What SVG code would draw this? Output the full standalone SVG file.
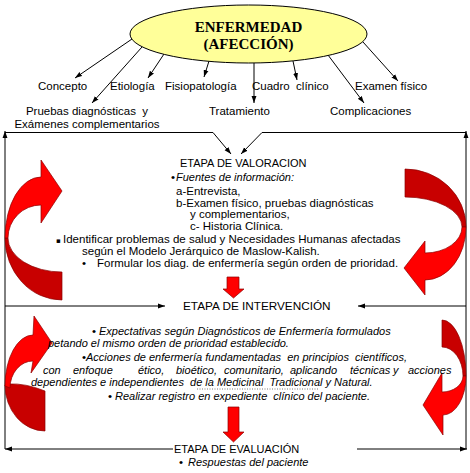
<svg xmlns="http://www.w3.org/2000/svg" width="470" height="473" viewBox="0 0 470 473">
<style>
text{font-family:"Liberation Sans",Arial,sans-serif;font-size:11.5px;fill:#000;white-space:pre}
.it{font-style:italic;font-size:11px}
.s11{font-size:11px}
.ttl{font-family:"Liberation Serif","Times New Roman",serif;font-weight:bold;font-size:15px}
.ln{stroke:#000;stroke-width:1;fill:none}
.red{fill:#FF0000;stroke:#8B0000;stroke-width:0.7}
.dark{fill:#C80000;stroke:#8B0000;stroke-width:0.7}
</style>
<defs>
<marker id="ah" viewBox="0 0 10 10" refX="10" refY="5" markerWidth="7" markerHeight="7" orient="auto" markerUnits="userSpaceOnUse">
<path d="M0,1.5 L10,5 L0,8.5 z" fill="#000"/>
</marker>
</defs>
<rect width="470" height="473" fill="#fff"/>

<g id="connectors">
<line class="ln" x1="132" y1="39" x2="75" y2="78" marker-end="url(#ah)"/>
<line class="ln" x1="142" y1="47" x2="92" y2="103" marker-end="url(#ah)"/>
<line class="ln" x1="164" y1="54" x2="148" y2="78" marker-end="url(#ah)"/>
<line class="ln" x1="209" y1="61" x2="204" y2="77" marker-end="url(#ah)"/>
<line class="ln" x1="254" y1="63" x2="254" y2="103" marker-end="url(#ah)"/>
<line class="ln" x1="293" y1="61" x2="297" y2="80" marker-end="url(#ah)"/>
<line class="ln" x1="328" y1="55" x2="364" y2="103" marker-end="url(#ah)"/>
<line class="ln" x1="363" y1="42" x2="398" y2="81" marker-end="url(#ah)"/>
<path class="ln" d="M5,449 V131" marker-end="url(#ah)"/>
<path class="ln" d="M466,449 V131" marker-end="url(#ah)"/>
<path class="ln" d="M5,132.5 H213 L231,154" marker-end="url(#ah)"/>
<path class="ln" d="M466,132.5 H262 L241,154" marker-end="url(#ah)"/>
<path class="ln" d="M5,306 H165" marker-end="url(#ah)"/>
<path class="ln" d="M466,306 H358" marker-end="url(#ah)"/>
<path class="ln" d="M173,449 H5" marker-end="url(#ah)"/>
<path class="ln" d="M357,449 H467" marker-end="url(#ah)"/>
</g>

<g id="enfermedad">
<ellipse cx="248.5" cy="34" rx="118.5" ry="29" fill="#FFFF99" stroke="#000" stroke-width="1"/>
<text class="ttl" x="248.5" y="32" text-anchor="middle">ENFERMEDAD</text>
<text class="ttl" x="248.5" y="49" text-anchor="middle">(AFECCIÓN)</text>
</g>

<g id="concepto"><text x="38" y="90">Concepto</text></g>
<g id="etiologia"><text x="110" y="90">Etiología</text></g>
<g id="fisiopatologia"><text x="165" y="90">Fisiopatología</text></g>
<g id="cuadro"><text x="252" y="90" xml:space="preserve">Cuadro  clínico</text></g>
<g id="examen"><text x="355" y="90">Examen físico</text></g>
<g id="pruebas">
<text x="87" y="115" text-anchor="middle" xml:space="preserve">Pruebas diagnósticas  y</text>
<text x="87" y="128" text-anchor="middle">Exámenes complementarios</text>
</g>
<g id="tratamiento"><text x="209" y="115">Tratamiento</text></g>
<g id="complicaciones"><text x="330" y="115">Complicaciones</text></g>

<g id="curved-arrows">
<path class="dark" d="M62,272 A54,34 0 0 1 8,238 L5,238 A57,62 0 0 0 62,300 Z"/>
<path class="red" d="M5,238 A36,61 0 0 1 41,177 L41,160 L62,191 L41,223 L41,205 A33,33 0 0 0 8,238 Z"/>
<path class="dark" d="M405,169 A61,58 0 0 1 466,227 L462,227 A57,30 0 0 0 405,197 Z"/>
<path class="red" d="M466,227 A41,53 0 0 1 425,280 L425,295 L404,268 L425,241 L425,253 A37,26 0 0 0 462,227 Z"/>
<path class="dark" d="M45,391 Q25,383 9,384 L5,385 A40,46 0 0 0 45,431 Z"/>
<path class="red" d="M5,386 A28,51 0 0 1 33,335 L34,316 L52,343 L31,373 L33,361 A23,27 0 0 0 10,388 Z"/>
<path class="dark" d="M442,320 A24,56 0 0 1 466,376 L463,376 A21,29 0 0 0 442,347 Z"/>
<path class="red" d="M466,376 A23,39 0 0 1 443,415 L443,435 L423,405 L442,373 L442,392 A21,16 0 0 0 463,376 Z"/>
</g>

<g id="valoracion">
<text class="s11" x="180" y="167">ETAPA DE VALORACION</text>
<text x="171" y="181">•</text>
<text class="it" x="176" y="181">Fuentes de información:</text>
<text x="176" y="195">a-Entrevista,</text>
<text x="176" y="207">b-Examen físico, pruebas diagnósticas</text>
<text x="190" y="218">y complementarios,</text>
<text x="190" y="230">c- Historia Clínica.</text>
<text x="56" y="243" style="font-family:'DejaVu Sans',sans-serif;font-size:7px">▪</text>
<text x="63" y="243">Identificar problemas de salud y Necesidades Humanas afectadas</text>
<text x="82" y="255">según el Modelo Jerárquico de Maslow-Kalish.</text>
<text x="82" y="267">•</text>
<text x="97" y="267">Formular los diag. de enfermería según orden de prioridad.</text>
<path class="red" d="M227,277 H239 V289 H244 L233.5,298 L223,289 H227 Z"/>
</g>

<g id="intervencion">
<text x="183" y="310" style="font-size:11.75px">ETAPA DE INTERVENCIÓN</text>
<text x="92" y="335">•</text>
<text class="it" x="99" y="335">Expectativas según Diagnósticos de Enfermería formulados</text>
<text class="it" x="48" y="347">petando el mismo orden de prioridad establecido.</text>
<text x="82" y="361">•</text>
<text class="it" x="86" y="361" xml:space="preserve">Acciones de enfermería fundamentadas  en principios  científicos,</text>
<text class="it" y="374"><tspan x="43">con</tspan><tspan x="73">enfoque</tspan><tspan x="138">ético,</tspan><tspan x="176">bioético,</tspan><tspan x="224">comunitario,</tspan><tspan x="290">aplicando</tspan><tspan x="350">técnicas</tspan><tspan x="393">y</tspan><tspan x="408">acciones</tspan></text>
<text class="it" x="31" y="386" xml:space="preserve">dependientes e independientes  de la Medicinal  Tradicional y Natural.</text>
<line x1="197" y1="389" x2="318" y2="389" stroke="#555" stroke-width="0.8" stroke-dasharray="1,1.5"/>
<text x="108" y="400">•</text>
<text class="it" x="115" y="400" xml:space="preserve">Realizar registro en expediente  clínico del paciente.</text>
<path class="red" d="M228,407 H239 V432 H244 L233.5,442 L223,432 H228 Z"/>
</g>

<g id="evaluacion">
<text class="s11" x="174" y="453">ETAPA DE EVALUACIÓN</text>
<text x="179" y="466">•</text>
<text class="it" x="188" y="466">Respuestas del paciente</text>
</g>
</svg>
